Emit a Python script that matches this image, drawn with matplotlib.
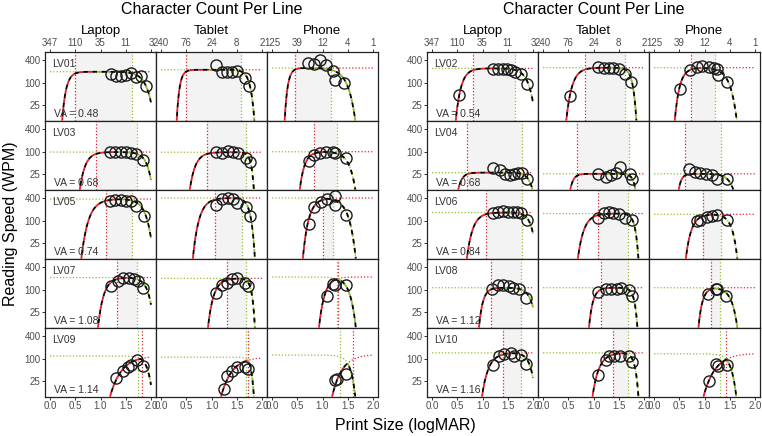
import numpy as np
import matplotlib
matplotlib.use("Agg")
import matplotlib.pyplot as plt
from matplotlib.ticker import NullLocator

plt.rcParams['font.family'] = ['Liberation Sans', 'DejaVu Sans']

# ---------------- data ----------------
subjects = ["LV01", "LV02", "LV03", "LV04", "LV05", "LV06", "LV07", "LV08", "LV09", "LV10"]
acuity = [0.48, 0.54, 0.68, 0.68, 0.74, 0.84, 1.08, 1.12, 1.14, 1.16]
devices = ["Laptop", "Tablet", "Phone"]

logmar_ticks = [0.0, 0.5, 1.0, 1.5, 2.0]
logmar_labels = ["0.0", "0.5", "1.0", "1.5", "2.0"]
laptop_chars = ["347", "110", "35", "11", "3"]
tablet_chars = ["240", "76", "24", "8", "2"]
phone_chars = ["125", "39", "12", "4", "1"]

# measured reading speed (print size logMAR, wpm)
laptop_x = [[1.2, 1.3, 1.4, 1.5, 1.6, 1.7, 1.8, 1.9],
            [0.54, 1.2, 1.3, 1.4, 1.49, 1.56, 1.65, 1.76, 1.89],
            [1.18, 1.29, 1.4, 1.5, 1.6, 1.71, 1.84],
            [1.2, 1.35, 1.45, 1.55, 1.63, 1.71, 1.79, 1.88],
            [1.18, 1.29, 1.4, 1.5, 1.6, 1.71, 1.86],
            [1.2, 1.3, 1.4, 1.5, 1.6, 1.68, 1.76, 1.89],
            [1.21, 1.34, 1.45, 1.57, 1.67, 1.75, 1.84],
            [1.19, 1.3, 1.41, 1.52, 1.61, 1.72, 1.86],
            [1.31, 1.44, 1.54, 1.6, 1.73, 1.84],
            [1.2, 1.32, 1.43, 1.56, 1.63, 1.76, 1.87]]
laptop_wpm = [[170, 150, 150, 160, 180, 140, 150, 82],
              [46, 226, 226, 226, 226, 213, 192, 172, 94],
              [100, 100, 100, 97, 91, 87, 60],
              [37, 33, 26, 24, 26, 27, 28, 19],
              [340, 355, 355, 340, 340, 240, 135],
              [163, 173, 180, 173, 173, 173, 163, 102],
              [125, 173, 200, 210, 192, 173, 108],
              [102, 130, 130, 125, 113, 102, 61],
              [30, 46, 60, 67, 91, 64],
              [70, 118, 135, 140, 118, 122, 73]]

tablet_x = [[1.08, 1.2, 1.3, 1.4, 1.5, 1.67, 1.75],
            [0.54, 1.08, 1.2, 1.3, 1.39, 1.5, 1.63, 1.74],
            [1.08, 1.21, 1.32, 1.42, 1.52, 1.68, 1.76],
            [1.08, 1.25, 1.35, 1.44, 1.52, 1.72, 1.77],
            [1.08, 1.21, 1.32, 1.42, 1.5, 1.68, 1.76],
            [1.08, 1.2, 1.3, 1.39, 1.5, 1.63, 1.77],
            [1.09, 1.21, 1.3, 1.41, 1.5, 1.67, 1.73],
            [1.08, 1.24, 1.35, 1.46, 1.55, 1.71, 1.77],
            [1.24, 1.3, 1.41, 1.5, 1.67, 1.73],
            [1.08, 1.24, 1.31, 1.41, 1.52, 1.71, 1.77]]
tablet_wpm = [[290, 195, 190, 190, 205, 135, 80],
              [44, 260, 250, 250, 250, 235, 172, 104],
              [97, 95, 104, 97, 91, 67, 55],
              [26, 21.5, 24.5, 28, 39, 26, 19.5],
              [260, 375, 400, 375, 295, 225, 135],
              [116, 163, 173, 163, 153, 116, 102],
              [80, 133, 148, 188, 200, 148, 125],
              [88, 102, 106, 106, 113, 97, 68],
              [16, 35, 46, 60, 60, 55],
              [36, 91, 118, 118, 118, 118, 82]]

phone_x = [[0.71, 0.84, 0.95, 1.07, 1.2, 1.24, 1.43],
           [0.51, 0.71, 0.85, 0.96, 1.08, 1.18, 1.24, 1.26, 1.44],
           [0.73, 0.84, 0.95, 1.07, 1.2, 1.24, 1.46],
           [0.7, 0.81, 0.92, 1.03, 1.15, 1.25, 1.44],
           [0.73, 0.84, 0.97, 1.08, 1.24, 1.25, 1.46],
           [0.85, 0.92, 1.04, 1.14, 1.24, 1.44],
           [1.08, 1.2, 1.25, 1.46],
           [1.06, 1.22, 1.24, 1.42],
           [1.24, 1.29, 1.46],
           [1.08, 1.23, 1.26, 1.44]]
phone_wpm = [[335, 312, 390, 295, 205, 118, 98],
             [67, 212, 260, 277, 260, 250, 226, 160, 104],
             [58, 82, 91, 97, 97, 91, 67],
             [34, 29, 28, 26, 24.5, 19.5, 19.5],
             [82, 226, 307, 375, 440, 260, 140],
             [100, 104, 125, 133, 140, 102],
             [68, 141, 133, 133],
             [79, 104, 102, 68],
             [27, 29, 40],
             [25, 73, 64, 70]]

# fitted curve parameters: max reading speed, start of rise, critical print size,
# start of drop, end of drop; optional rise asymptote / 90% point
laptop_mrs = [195, 240, 98, 28, 375, 165, 210, 113, 118, 143]
laptop_start = [0.24, 0.47, 0.59, 0.52, 0.62, 0.69, 0.95, 0.93, 1.19, 0.99]
laptop_cps = [0.50, 0.82, 0.92, 0.69, 1.11, 1.07, 1.32, 1.17, 1.82, 1.40]
laptop_drop = [1.63, 1.65, 1.72, 1.79, 1.63, 1.78, 1.73, 1.76, 1.75, 1.76]
laptop_end = [2.06, 2.05, 2.03, 1.99, 2.05, 2.07, 2.06, 2.07, 2.03, 2.05]
laptop_risetop = [None] * 10
laptop_rise90 = [None, None, None, None, None, None, None, None, 1.90, None]

tablet_mrs = [220, 250, 97, 26, 400, 155, 200, 113, 110, 143]
tablet_start = [0.31, 0.46, 0.57, 0.54, 0.63, 0.69, 0.93, 0.91, 1.19, 0.98]
tablet_cps = [0.50, 0.84, 0.91, 0.68, 1.06, 1.08, 1.30, 1.15, 1.73, 1.39]
tablet_drop = [1.59, 1.62, 1.68, 1.71, 1.60, 1.69, 1.68, 1.69, 1.68, 1.69]
tablet_end = [1.85, 1.85, 1.84, 1.83, 1.86, 1.89, 1.86, 1.87, 1.84, 1.89]
tablet_risetop = [None] * 10
tablet_rise90 = [None, None, None, None, None, None, None, None, 1.85, None]

phone_mrs = [245, 250, 100, 26, 400, 148, 217, 113, 125, 135]
phone_start = [0.25, 0.41, 0.55, 0.49, 0.61, 0.63, 0.93, 0.88, 1.19, 0.98]
phone_cps = [0.45, 0.74, 0.84, 0.61, 1.01, 0.98, 1.30, 1.12, 1.61, 1.42]
phone_drop = [1.16, 1.20, 1.28, 1.33, 1.20, 1.33, 1.28, 1.31, 1.35, 1.31]
phone_end = [1.65, 1.64, 1.65, 1.57, 1.66, 1.65, 1.66, 1.65, 1.65, 1.63]
phone_risetop = [None, None, None, None, None, None, None, None, 130, 140]
phone_rise90 = [None, None, None, None, None, None, None, None, 1.82, 1.73]

tables = {
    "Laptop": dict(x=laptop_x, wpm=laptop_wpm, mrs=laptop_mrs, start=laptop_start, cps=laptop_cps,
                   drop=laptop_drop, end=laptop_end, top=laptop_risetop, r90=laptop_rise90, chars=laptop_chars),
    "Tablet": dict(x=tablet_x, wpm=tablet_wpm, mrs=tablet_mrs, start=tablet_start, cps=tablet_cps,
                   drop=tablet_drop, end=tablet_end, top=tablet_risetop, r90=tablet_rise90, chars=tablet_chars),
    "Phone": dict(x=phone_x, wpm=phone_wpm, mrs=phone_mrs, start=phone_start, cps=phone_cps,
                  drop=phone_drop, end=phone_end, top=phone_risetop, r90=phone_rise90, chars=phone_chars),
}

RED = "#E8202A"
GREEN = "#8DBF2E"
SHADE = "#F3F3F3"
TXT = "#4d4d4d"
LN90 = -np.log10(0.9)


def rise_curve(x, top, start, x90):
    # exponential approach in log10(wpm): 10 wpm at start, 90% of top at x90
    A = np.log10(top)
    k = np.log((1 - 1 / A) / (LN90 / A)) / (x90 - start)
    return 10 ** (A * (1 - (1 - 1 / A) * np.exp(-k * (x - start))))


def fall_curve(x, top, x90, end):
    A = np.log10(top)
    k = np.log((1 - 1 / A) / (LN90 / A)) / (end - x90)
    return 10 ** (A * (1 - (1 - 1 / A) * np.exp(k * (x - end))))


# ---------------- layout (pixels) ----------------
W, H = 762, 436
fig = plt.figure(figsize=(W / 100, H / 100), dpi=100)
block_left = [45, 427]
pw, ph = 111, 69
top0 = 52

for b in range(2):
    bx = block_left[b]
    fig.text((bx + 1.5 * pw) / W, 1 - 9 / H, "Character Count Per Line",
             ha="center", va="center", fontsize=11.5, color="black")
    for c, dev in enumerate(devices):
        fig.text((bx + c * pw + pw / 2) / W, 1 - 31 / H, dev,
                 ha="center", va="center", fontsize=9.5, color="black")

    for r in range(5):
        s = 2 * r + b
        for c, dev in enumerate(devices):
            t = tables[dev]
            left = bx + c * pw
            top = top0 + r * ph
            ax = fig.add_axes([left / W, 1 - (top + ph) / H, pw / W, ph / H])
            ax.set_yscale("log")
            ax.set_xlim(-0.1, 2.1)
            ax.set_ylim(9.7, 650)

            mrs = t["mrs"][s]
            start = t["start"][s]
            cps = t["cps"][s]
            drop = t["drop"][s]
            end = t["end"][s]
            top_r = t["top"][s] if t["top"][s] is not None else mrs
            r90 = t["r90"][s] if t["r90"][s] is not None else cps

            if cps < drop:
                ax.axvspan(cps, drop, color=SHADE, lw=0, zorder=0)
            ax.axvline(cps, color=RED, lw=0.9, ls=(0, (1, 1.6)), zorder=1)
            ax.axvline(drop, color=GREEN, lw=0.9, ls=(0, (1, 1.6)), zorder=1)

            # fall curve (green dotted) and rise curve (red dotted)
            xf = np.linspace(0.0, min(end, 2.0), 300)
            ax.plot(xf, fall_curve(xf, mrs, drop, end), color=GREEN, lw=0.9,
                    ls=(0, (1, 1.6)), zorder=2)
            xr = np.linspace(start, 2.0, 300)
            ax.plot(xr, rise_curve(xr, top_r, start, r90), color=RED, lw=0.9,
                    ls=(0, (1, 1.6)), zorder=2)

            # combined fit, dashed colour / black
            xc = np.linspace(start, min(end, 2.0), 400)
            yr = rise_curve(xc, top_r, start, r90)
            yf = fall_curve(xc, mrs, drop, end)
            yc = np.minimum(yr, yf)
            is_rise = yr <= yf
            if is_rise.any():
                i = np.where(is_rise)[0]
                sl = slice(i[0], min(i[-1] + 2, len(xc)))
                ax.plot(xc[sl], yc[sl], color=RED, lw=1.3, ls=(0, (2.5, 2.5)), zorder=3)
            if (~is_rise).any():
                i = np.where(~is_rise)[0]
                sl = slice(max(i[0] - 1, 0), i[-1] + 1)
                ax.plot(xc[sl], yc[sl], color=GREEN, lw=1.3, ls=(0, (2.5, 2.5)), zorder=3)
            ax.plot(xc, yc, color="black", lw=1.3, ls=(2.5, (2.5, 2.5)), zorder=3)

            ax.plot(t["x"][s], t["wpm"][s], "o", ms=8, mfc="none", mec="#1a1a1a",
                    mew=1.0, zorder=4)

            if c == 0:
                ax.text(0.06, 0.83, subjects[s], transform=ax.transAxes,
                        fontsize=7.5, color="#333333", ha="left", va="center")
                ax.text(0.085, 0.1, "VA = %.2f" % acuity[s], transform=ax.transAxes,
                        fontsize=7.5, color="#333333", ha="left", va="center", zorder=5)

            # axes styling
            for sp in ax.spines.values():
                sp.set_linewidth(0.9)
                sp.set_color("#222222")
            ax.yaxis.set_minor_locator(NullLocator())
            ax.xaxis.set_minor_locator(NullLocator())
            ax.tick_params(length=2.2, width=0.7, color="#333333", pad=1,
                           labelsize=7, labelcolor=TXT)
            if c == 0:
                ax.set_yticks([25, 100, 400])
                ax.set_yticklabels(["25", "100", "400"])
            else:
                ax.set_yticks([])
            ax.set_xticks(logmar_ticks)
            if r == 0:
                ax.set_xticklabels(t["chars"])
                ax.tick_params(axis="x", top=True, bottom=False, labeltop=True, labelbottom=False)
            elif r == 4:
                ax.set_xticklabels(logmar_labels)
            else:
                ax.tick_params(axis="x", bottom=False, labelbottom=False)

fig.text(11 / W, 1 - 224 / H, "Reading Speed (WPM)", rotation=90,
         ha="center", va="center", fontsize=11.5)
fig.text(405 / W, 1 - 425 / H, "Print Size (logMAR)",
         ha="center", va="center", fontsize=11.5)

fig.savefig("out.png", dpi=100)
